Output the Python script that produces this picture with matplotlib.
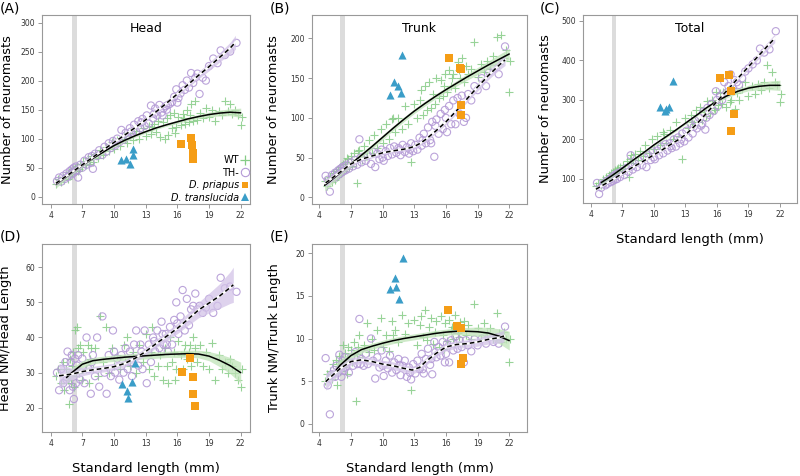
import matplotlib
matplotlib.use('Agg')
import matplotlib.pyplot as plt
import numpy as np
from matplotlib.lines import Line2D

# ---------------- data ----------------
WT_SL = [4.5, 4.7, 5.0, 5.2, 5.3, 5.5, 5.6, 5.7, 5.8, 5.9,
         6.0, 6.1, 6.2, 6.3, 6.4, 6.5, 6.7, 6.8, 7.0, 7.1,
         7.3, 7.5, 7.6, 7.8, 8.0, 8.2, 8.5, 8.7, 9.0, 9.2,
         9.5, 9.8, 10.0, 10.3, 10.6, 10.9, 11.2, 11.5, 11.8, 12.1,
         12.4, 12.7, 13.0, 13.3, 13.5, 13.8, 14.0, 14.2, 14.4, 14.6,
         14.8, 15.0, 15.1, 15.3, 15.5, 15.7, 15.9, 16.1, 16.3, 16.5,
         16.7, 16.9, 17.1, 17.3, 17.5, 17.7, 17.9, 18.1, 18.4, 18.7,
         19.0, 19.3, 19.6, 19.9, 20.2, 20.5, 20.8, 21.0, 21.2, 21.5,
         21.7, 22.0, 22.1, 6.6, 7.7, 11.0, 13.6, 15.8, 16.6, 17.2]

WT_HEAD = [22, 30, 25, 34, 28, 38, 31, 42, 35, 44,
           39, 47, 41, 50, 44, 53, 48, 57, 51, 62,
           54, 67, 57, 70, 60, 74, 66, 80, 72, 86,
           78, 94, 83, 98, 88, 104, 92, 110, 97, 114,
           100, 118, 104, 122, 108, 126, 112, 130, 103, 128,
           100, 135, 106, 140, 118, 145, 120, 138, 123, 143,
           125, 150, 128, 160, 130, 165, 132, 145, 136, 152,
           138, 149, 130, 147, 140, 165, 148, 160, 142, 150,
           140, 123, 138, 45, 64, 100, 120, 110, 135, 140]

WT_TRUNK = [20, 14, 25, 19, 30, 22, 33, 26, 36, 28,
            38, 30, 42, 33, 45, 35, 48, 38, 52, 40,
            56, 44, 18, 60, 47, 65, 52, 72, 56, 78,
            62, 86, 68, 92, 74, 98, 82, 100, 86, 115,
            92, 45, 118, 100, 122, 104, 140, 110, 145, 112,
            130, 118, 150, 125, 148, 128, 155, 132, 160, 140,
            155, 138, 170, 150, 175, 145, 165, 155, 162, 196,
            152, 168, 158, 172, 162, 178, 202, 168, 205, 175,
            185, 132, 172, 50, 58, 100, 135, 140, 150, 160]

WT_TOTAL = [82, 90, 86, 100, 92, 106, 97, 110, 100, 114,
            104, 118, 107, 122, 110, 125, 114, 130, 120, 136,
            125, 145, 105, 160, 140, 162, 148, 172, 158, 185,
            165, 200, 175, 210, 185, 220, 192, 225, 200, 245,
            210, 150, 255, 230, 262, 238, 275, 245, 282, 250,
            270, 260, 298, 268, 300, 280, 320, 288, 318, 290,
            312, 282, 325, 300, 330, 278, 318, 300, 328, 345,
            310, 335, 315, 340, 325, 345, 388, 330, 370, 345,
            338, 295, 315, 128, 150, 215, 245, 275, 320, 295]

WT_HEAD_RATIO = [29, 31, 27, 33, 25, 31, 28, 21, 34, 27,
                 32, 36, 26, 42, 29, 43, 30, 38, 28, 36,
                 31, 38, 27, 37, 31, 37, 29, 46, 33, 43,
                 30, 37, 32, 35, 31, 38, 40, 32, 36, 30,
                 38, 33, 41, 31, 36, 29, 38, 32, 35, 28,
                 37, 32, 27, 40, 33, 36, 31, 39, 35, 31,
                 38, 34, 36, 32, 40, 37, 33, 38, 32, 36,
                 31, 38.5, 28, 35, 31, 33, 30, 34, 32, 30,
                 28, 26, 31, 37, 34, 33, 43, 28, 36, 38]

WT_TRUNK_RATIO = [5.0, 5.8, 6.2, 5.3, 7.0, 6.0, 7.5, 4.6, 6.8, 8.0,
                  6.2, 7.4, 9.2, 6.7, 8.3, 7.0, 9.0, 7.6, 8.6, 7.2,
                  9.6, 2.7, 8.2, 10.4, 7.8, 9.2, 11.8, 8.4, 10.0, 8.6,
                  11.0, 12.4, 9.0, 10.4, 8.5, 12.0, 11.0, 9.6, 12.8, 10.5,
                  11.8, 4.0, 12.2, 9.2, 11.6, 10.2, 13.3, 9.8, 11.4, 12.4,
                  9.4, 10.8, 12.0, 9.0, 12.6, 10.4, 11.8, 9.7, 12.2, 11.0,
                  10.0, 12.8, 10.6, 11.9, 9.6, 12.0, 10.4, 11.6, 10.0, 14.0,
                  11.2, 9.9, 11.8, 10.6, 11.2, 10.0, 13.0, 10.6, 9.6, 10.8,
                  9.9, 7.2, 10.0, 5.8, 9.0, 10.4, 12.6, 8.8, 11.4, 10.2]

TH_SL = [4.6, 4.8, 5.0, 5.2, 5.4, 5.5, 5.6, 5.8, 5.9, 6.0,
         6.1, 6.2, 6.3, 6.4, 6.5, 6.6, 6.8, 7.0, 7.2, 7.4,
         7.6, 7.8, 8.0, 8.2, 8.4, 8.6, 8.9, 9.1, 9.3, 9.5,
         9.7, 9.9, 10.1, 10.3, 10.5, 10.7, 10.9, 11.1, 11.3, 11.5,
         11.7, 11.9, 12.1, 12.3, 12.5, 12.7, 12.9, 13.1, 13.3, 13.5,
         13.7, 13.9, 14.1, 14.3, 14.5, 14.7, 14.9, 15.1, 15.3, 15.5,
         15.7, 15.9, 16.1, 16.3, 16.5, 16.7, 16.9, 17.1, 17.3, 17.5,
         17.7, 17.9, 18.1, 18.4, 18.7, 19.0, 19.4, 19.8, 20.1, 20.5,
         21.0, 21.6, 7.9, 10.0, 11.6, 12.6, 13.8, 14.6, 15.0, 16.0]

TH_HEAD = [27, 33, 26, 36, 31, 40, 34, 44, 38, 47,
           40, 50, 43, 52, 45, 33, 55, 50, 62, 55,
           68, 58, 48, 74, 70, 80, 72, 86, 78, 92,
           84, 96, 88, 100, 94, 115, 98, 110, 104, 118,
           108, 124, 112, 130, 118, 134, 122, 140, 126, 157,
           135, 152, 140, 158, 145, 152, 156, 158, 160, 163,
           172, 185, 170, 178, 192, 184, 200, 188, 213, 196,
           205, 212, 177, 205, 200, 225, 238, 230, 252, 244,
           250, 265, 70, 90, 112, 128, 143, 140, 150, 162]

TH_TRUNK = [27, 22, 7, 28, 24, 31, 26, 34, 29, 36,
            31, 38, 33, 39, 34, 41, 36, 44, 39, 47,
            41, 73, 44, 51, 46, 53, 42, 57, 38, 55,
            48, 60, 46, 58, 52, 62, 54, 64, 56, 62,
            53, 66, 57, 63, 55, 68, 58, 66, 60, 75,
            65, 80, 68, 88, 72, 95, 51, 98, 80, 105,
            86, 110, 82, 115, 92, 122, 92, 125, 105, 128,
            95, 100, 130, 122, 140, 135, 150, 140, 158, 162,
            155, 190, 50, 50, 60, 60, 72, 68, 90, 100]

TH_TOTAL = [90, 62, 78, 88, 84, 95, 88, 99, 92, 104,
            95, 108, 98, 112, 100, 115, 105, 120, 110, 128,
            118, 160, 124, 140, 130, 146, 135, 155, 130, 160,
            148, 170, 150, 172, 160, 182, 165, 188, 172, 190,
            178, 200, 182, 205, 190, 215, 195, 222, 205, 240,
            215, 248, 228, 255, 235, 270, 225, 280, 262, 290,
            272, 322, 285, 310, 300, 345, 318, 335, 365, 330,
            350, 345, 338, 355, 372, 380, 390, 400, 430, 420,
            428, 474, 132, 155, 183, 200, 232, 240, 255, 300]

TH_HEAD_RATIO = [30, 25, 31, 27, 33, 28, 36, 25, 33, 35,
                 26, 22.5, 34, 27, 32, 35, 28, 34, 27, 40,
                 31, 24, 35, 29, 40, 26, 46, 30, 24, 35,
                 29, 42, 30, 34, 28, 35, 30, 37, 31, 36,
                 29, 38, 42, 32, 38, 31, 42, 27, 38, 33,
                 40, 36, 42, 37, 44.5, 38, 41, 36, 43, 38,
                 45, 50, 41, 46, 53.5, 42, 51, 43.5, 48, 49,
                 52.5, 48, 49, 47, 48.5, 51, 47, 49, 57, 54,
                 54.5, 53, 33, 36, 33, 36, 39, 41, 38, 44]

TH_TRUNK_RATIO = [7.7, 4.5, 1.1, 5.8, 6.3, 5.5, 6.8, 6.0, 8.1, 6.5,
                  5.5, 7.4, 6.2, 7.8, 6.6, 7.2, 6.0, 7.8, 6.8, 8.4,
                  7.0, 12.3, 7.6, 6.8, 8.2, 7.0, 10.0, 7.4, 5.3, 7.8,
                  6.6, 8.6, 5.6, 7.4, 6.5, 8.0, 6.0, 7.2, 6.3, 7.6,
                  5.7, 6.8, 7.4, 5.5, 6.6, 5.2, 7.0, 5.9, 7.4, 6.4,
                  8.2, 5.9, 7.6, 8.8, 6.9, 5.8, 9.6, 7.8, 9.0, 8.0,
                  9.6, 7.2, 9.4, 7.2, 9.8, 8.6, 10.2, 8.8, 9.8, 9.0,
                  7.2, 9.8, 9.2, 8.5, 9.9, 9.2, 10.0, 9.4, 10.2, 9.6,
                  9.4, 11.4, 7.0, 6.8, 6.9, 6.0, 6.4, 7.6, 8.4, 8.2]

# D. priapus / D. translucida (x, y per panel)
PRI_X = {'A': [16.35, 17.3, 17.4, 17.5, 17.5], 'B': [16.3, 17.3, 17.4, 17.45, 17.45],
         'C': [16.25, 17.12, 17.38, 17.6, 17.38], 'D': [16.4, 17.19, 17.44, 17.5, 17.7],
         'E': [16.22, 17.07, 17.39, 17.58, 17.39]}
PRI_Y = {'A': [91, 101, 89, 76, 65], 'B': [176, 163, 162, 116, 104],
         'C': [355, 363, 323, 264, 222], 'D': [30.1, 34.1, 28.8, 23.8, 20.5],
         'E': [13.35, 11.47, 11.2, 7.75, 6.97]}
TRA_X = {'A': [10.66, 11.13, 11.5, 11.76, 11.82], 'B': [10.7, 11.07, 11.45, 11.74, 11.86],
         'C': [10.55, 11.02, 11.2, 11.43, 11.8], 'D': [10.77, 11.2, 11.3, 11.68, 12.0],
         'E': [10.69, 11.16, 11.25, 11.57, 11.95]}
TRA_Y = {'A': [63, 64.5, 56, 72, 83], 'B': [129, 144.6, 139.6, 131, 179],
         'C': [281, 273, 276, 281, 348], 'D': [26.8, 24.7, 22.7, 27.2, 32.8],
         'E': [15.77, 17.07, 16.08, 14.7, 19.4]}

# fitted curves: knots, value, half-width of band
FIT_WT = {
    'A': ([4.5, 5, 6, 7, 8, 9, 10, 11, 12, 13, 14, 15, 16, 17, 18, 19, 20, 21, 22],
          [21, 28, 41, 54, 66, 77, 88, 97, 105, 112, 118.5, 124, 129, 134, 138, 141.5, 144, 145.5, 144.5],
          [6, 5, 3, 2.5, 2.5, 2.5, 2.5, 2.5, 2.5, 2.5, 2.5, 2.5, 3, 3, 3.5, 4, 5, 6, 8]),
    'B': ([4.5, 5, 6, 7, 8, 9, 10, 11, 12, 13, 14, 15, 16, 17, 18, 19, 20, 21, 22],
          [15, 20, 31, 42, 53, 64, 75.5, 87, 98, 108.5, 118, 127, 135.5, 143.5, 151.5, 159, 166.5, 173.5, 180.5],
          [7, 6, 4, 3, 3, 3, 3, 3, 3, 3, 3, 3, 3, 3.5, 4, 4.5, 5, 6, 7]),
    'C': ([5, 6, 7, 8, 9, 10, 11, 12, 13, 14, 15, 16, 17, 18, 19, 20, 21, 22],
          [91, 108, 127, 147, 166, 186, 204, 222, 241, 260, 280, 297, 311, 322, 330, 334.5, 337, 337],
          [5, 4, 3, 3, 3, 3, 3, 3, 3, 3, 3.5, 4, 5, 6, 7, 9, 11, 13]),
    'D': ([5.5, 6, 7, 8, 9, 10, 11, 12, 13, 14, 15, 16, 17, 18, 19, 20, 21, 22],
          [28.6, 30, 32.4, 33.4, 33.8, 34.1, 34.4, 34.6, 34.8, 35, 35.2, 35.3, 35.4, 35.3, 34.7, 33.5, 32, 30],
          [1.8, 1.4, 1.0, 0.9, 0.9, 0.9, 0.9, 0.9, 0.9, 0.9, 0.9, 1.0, 1.0, 1.1, 1.3, 1.8, 2.3, 3.0]),
    'E': ([5.6, 6, 7, 8, 9, 10, 11, 12, 13, 14, 15, 16, 17, 18, 19, 20, 21, 22],
          [6.3, 6.9, 8.0, 8.7, 9.1, 9.45, 9.75, 10.0, 10.2, 10.4, 10.6, 10.75, 10.85, 10.85, 10.8, 10.65, 10.3, 9.75],
          [0.8, 0.6, 0.45, 0.4, 0.35, 0.35, 0.35, 0.35, 0.35, 0.35, 0.35, 0.35, 0.4, 0.45, 0.55, 0.65, 0.85, 1.1]),
}
FIT_TH = {
    'A': ([4.5, 5, 6, 7, 8, 9, 10, 11, 12, 13, 14, 15, 16, 17, 18, 19, 20, 21, 21.5],
          [23, 29.5, 42, 55, 68, 81, 93.5, 106, 119, 132.5, 146.5, 161.5, 177, 193, 209, 224, 240, 256, 266],
          [4, 3, 2.5, 2.5, 2.5, 2.5, 2.5, 2.5, 3, 3, 3, 3.5, 4, 5, 6, 7, 8, 10, 12]),
    'B': ([4.6, 5, 6, 7, 8, 9, 10, 11, 12, 12.5, 13, 13.5, 14, 15, 16, 17, 18, 19, 20, 21, 21.6],
          [18, 22, 32, 42, 48, 52, 56, 58.5, 60.5, 62, 64, 67.5, 72, 83, 95, 109, 124, 139, 153, 166, 173],
          [5, 4, 3, 2.5, 2.5, 2.5, 2.5, 2.5, 2.5, 2.5, 3, 3, 3, 3, 3.5, 4, 4, 5, 5, 6, 7]),
    'C': ([4.5, 5, 6, 7, 8, 9, 10, 11, 12, 12.5, 13, 13.5, 14, 15, 16, 17, 18, 19, 20, 21, 21.5],
          [74, 82, 97, 114, 130, 145, 161, 177, 194, 202, 212, 224, 237, 266, 296, 325, 355, 384, 413, 442, 456],
          [5, 4, 3, 3, 3, 3, 3, 3, 3, 3, 3, 3, 3.5, 4, 4, 5, 6, 7, 8, 10, 11]),
    'D': ([4.8, 6, 7, 8, 9, 10, 11, 12, 13, 14, 15, 16, 17, 18, 19, 20, 21, 21.3],
          [29.1, 29.6, 30.3, 30.8, 31.2, 31.7, 32.6, 34.1, 36, 38.3, 40.4, 42.6, 45.2, 47.8, 49.8, 51.8, 54.2, 55],
          [3.5, 1.6, 1.2, 1.0, 1.0, 1.0, 1.0, 1.0, 1.1, 1.2, 1.3, 1.5, 1.8, 2.2, 2.8, 3.5, 4.5, 5.0]),
    'E': ([4.6, 5, 6, 7, 8, 9, 10, 11, 12, 12.8, 13.5, 14, 15, 16, 17, 18, 19, 20, 21, 21.5],
          [4.93, 5.4, 6.5, 7.3, 7.5, 7.3, 7.0, 6.8, 6.5, 6.3, 6.6, 7.2, 8.2, 9.0, 9.3, 9.4, 9.6, 9.9, 10.1, 10.3],
          [1.0, 0.8, 0.5, 0.45, 0.45, 0.45, 0.45, 0.45, 0.45, 0.45, 0.45, 0.45, 0.45, 0.45, 0.45, 0.45, 0.5, 0.55, 0.65, 0.7]),
}

X_TICKS = [4, 7, 10, 13, 16, 19, 22]
Y_TICKS = {'A': [0, 50, 100, 150, 200, 250, 300], 'B': [0, 50, 100, 150, 200],
           'C': [100, 200, 300, 400, 500], 'D': [20, 30, 40, 50, 60], 'E': [0, 5, 10, 15, 20]}
TITLES = {'A': 'Head', 'B': 'Trunk', 'C': 'Total'}
YLABELS = {'A': 'Number of neuromasts', 'B': 'Number of neuromasts', 'C': 'Number of neuromasts',
           'D': 'Head NM/Head Length', 'E': 'Trunk NM/Trunk Length'}
WT_Y = {'A': WT_HEAD, 'B': WT_TRUNK, 'C': WT_TOTAL, 'D': WT_HEAD_RATIO, 'E': WT_TRUNK_RATIO}
TH_Y = {'A': TH_HEAD, 'B': TH_TRUNK, 'C': TH_TOTAL, 'D': TH_HEAD_RATIO, 'E': TH_TRUNK_RATIO}

# ---------------- layout ----------------
W, H = 800, 476
RECTS = {'A': (42, 15, 250, 204), 'B': (311.7, 15, 527.3, 204), 'C': (582.7, 15, 796.7, 202.7),
         'D': (42, 244, 250, 431.7), 'E': (311.7, 244, 527.3, 431.7)}
XLIMS = {'A': (3.18, 22.88), 'B': (3.28, 23.71), 'C': (3.24, 23.59), 'D': (3.18, 22.88), 'E': (3.28, 23.71)}
YLIMS = {'A': (-12.6, 313), 'B': (-8.5, 229.6), 'C': (40, 515), 'D': (13.2, 66.6), 'E': (-0.94, 21.1)}
LETTERS = {'A': (0, 2), 'B': (270, 2), 'C': (540, 2), 'D': (0, 229), 'E': (270, 229)}
YLABEL_X = {'A': 14, 'B': 280, 'C': 552, 'D': 12, 'E': 281}   # centre of y label, px

GREEN = '#86cc86'
PURPLE = '#b49ad6'
ORANGE = '#f59d16'
BLUE = '#3a9dc8'
GREEN_BAND = '#bfe3b8'
PURPLE_BAND = '#d3c3e8'

fig = plt.figure(figsize=(W / 100, H / 100), dpi=100)

for key in ['A', 'B', 'C', 'D', 'E']:
    l, t, r, b = RECTS[key]
    ax = fig.add_axes([l / W, 1 - b / H, (r - l) / W, (b - t) / H])
    ax.set_xlim(*XLIMS[key])
    ax.set_ylim(*YLIMS[key])
    ax.axvspan(6.0, 6.45, color='#dcdcdc', lw=0, zorder=0)

    ax.scatter(WT_SL, WT_Y[key], marker='+', s=40, c=GREEN, linewidths=0.8, alpha=0.85, zorder=2)
    ax.scatter(TH_SL, TH_Y[key], marker='o', s=27, facecolors='none', edgecolors=PURPLE,
               linewidths=0.8, alpha=0.9, zorder=2)

    xw, yw, bw = (np.array(v, dtype=float) for v in FIT_WT[key])
    xt, yt, bt = (np.array(v, dtype=float) for v in FIT_TH[key])
    ax.fill_between(xw, yw - bw, yw + bw, color=GREEN_BAND, alpha=0.75, lw=0, zorder=3)
    ax.fill_between(xt, yt - bt, yt + bt, color=PURPLE_BAND, alpha=0.75, lw=0, zorder=3)
    ax.plot(xw, yw, color='black', lw=1.1, zorder=5, solid_capstyle='round')
    ax.plot(xt, yt, color='white', lw=1.6, zorder=5)
    ax.plot(xt, yt, color='black', lw=1.1, ls=(0, (3, 2)), zorder=6)

    ax.scatter(PRI_X[key], PRI_Y[key], marker='s', s=26, c=ORANGE, lw=0, zorder=7)
    ax.scatter(TRA_X[key], TRA_Y[key], marker='^', s=34, c=BLUE, lw=0, zorder=7)

    ax.set_xticks(X_TICKS)
    ax.set_yticks(Y_TICKS[key])
    ax.tick_params(axis='both', length=3, width=0.6, color='#888888', labelsize=5.5,
                   labelcolor='#333333', pad=2)
    for sp in ax.spines.values():
        sp.set_color('#999999')
        sp.set_linewidth(0.8)
    ax.set_ylabel(YLABELS[key], fontsize=9.3)
    ax.yaxis.set_label_coords((YLABEL_X[key] - l) / (r - l), 0.5)
    if key in ('C', 'D', 'E'):
        ax.set_xlabel('Standard length (mm)', fontsize=9.5, labelpad=10)
    if key in TITLES:
        ax.text(0.5, 0.965, TITLES[key], transform=ax.transAxes, ha='center', va='top', fontsize=9)
    lx, ly = LETTERS[key]
    fig.text(lx / W, 1 - ly / H, '(%s)' % key, ha='left', va='top', fontsize=10)

    if key == 'A':
        handles = [Line2D([], [], ls='', marker='+', color=GREEN, ms=7, mew=0.9),
                   Line2D([], [], ls='', marker='o', mfc='none', mec=PURPLE, ms=6, mew=0.8),
                   Line2D([], [], ls='', marker='s', color=ORANGE, ms=5, mew=0),
                   Line2D([], [], ls='', marker='^', color=BLUE, ms=6, mew=0)]
        leg = ax.legend(handles, ['WT', 'TH-', 'D. priapus', 'D. translucida'], loc='lower right',
                        markerfirst=False, frameon=False, fontsize=7, handlelength=0.8,
                        handletextpad=0.2, labelspacing=0.25, borderaxespad=0.05, borderpad=0.1)
        for txt in leg.get_texts()[2:]:
            txt.set_fontstyle('italic')

fig.savefig('out.png', dpi=100)
